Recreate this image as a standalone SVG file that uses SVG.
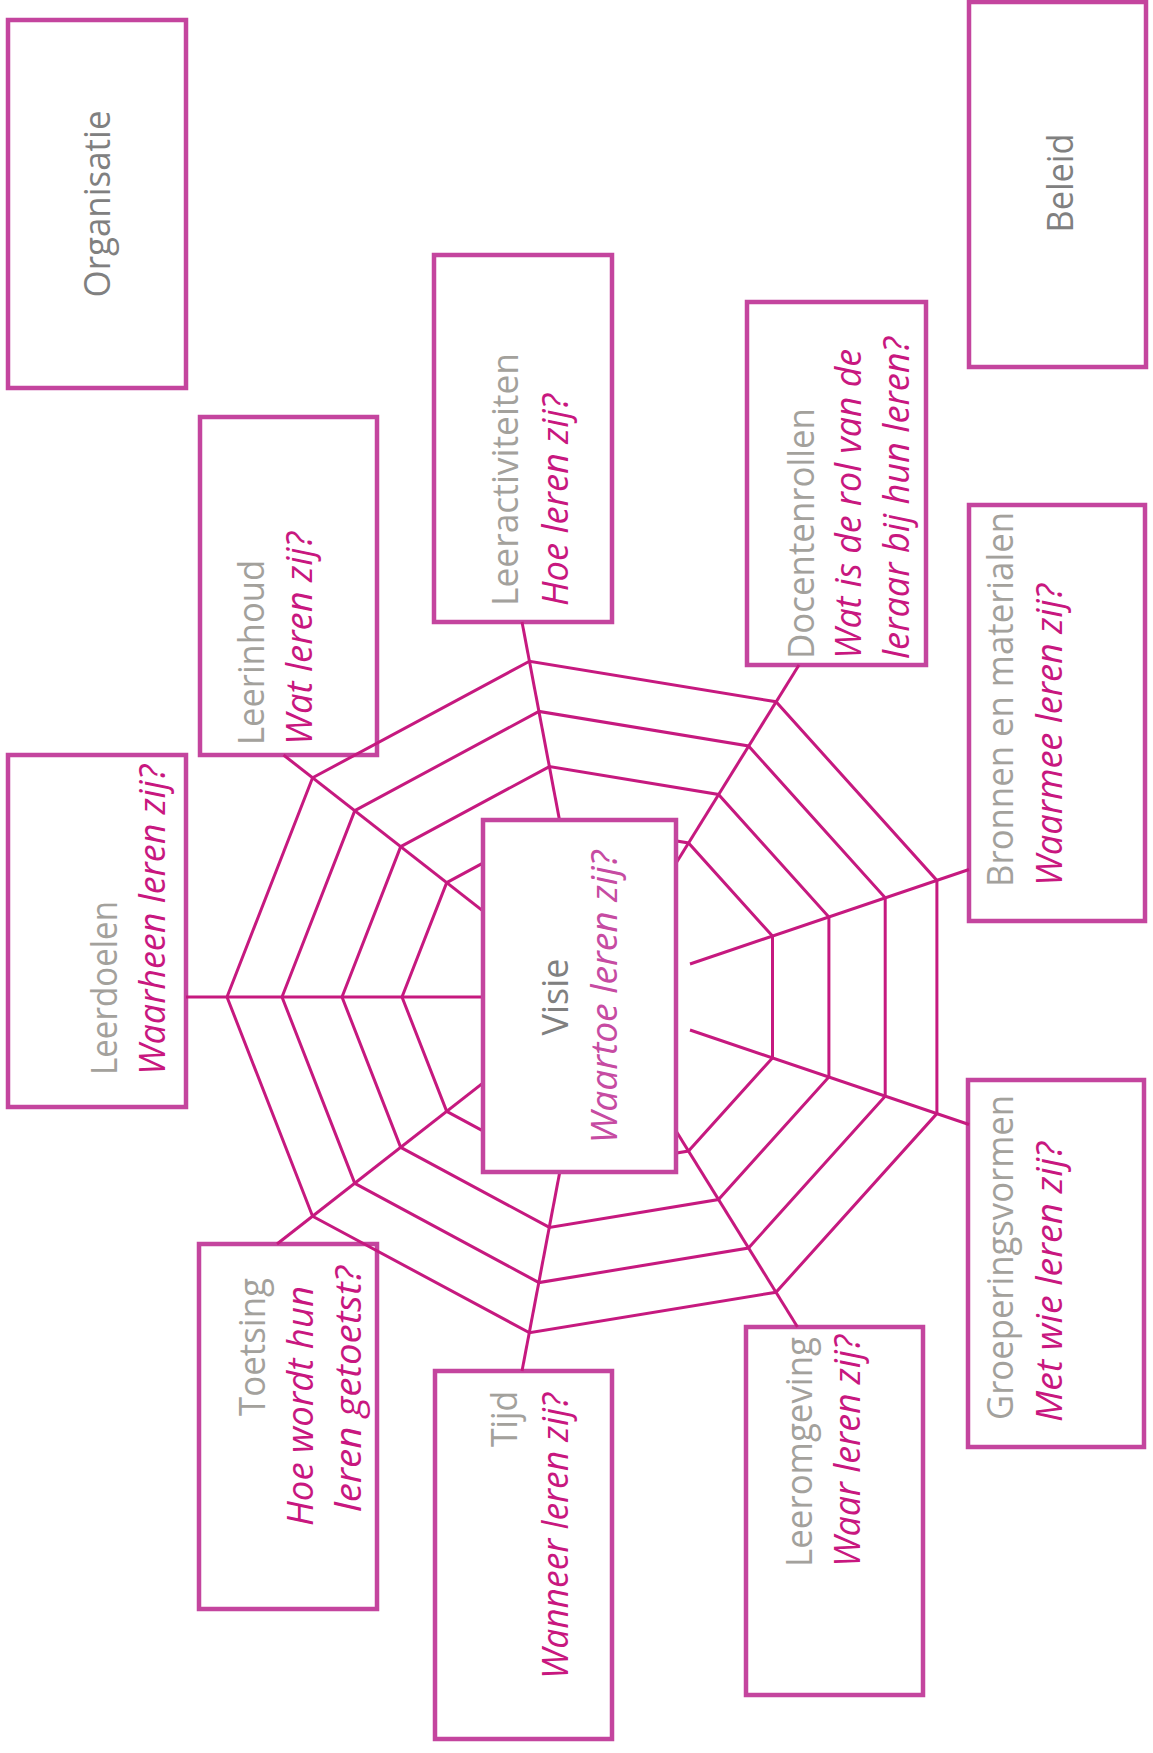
<svg xmlns="http://www.w3.org/2000/svg" width="1153" height="1753" viewBox="0 0 1153 1753">
<style>
.box{fill:#fff;stroke:#C4459E;stroke-width:4.5}
.web{fill:none;stroke:#C6197F;stroke-width:3;stroke-linejoin:miter}
.t{font-family:"Open Sans","Noto Sans","DejaVu Sans",sans-serif;font-size:36px}
.g{fill:#A3A19C}
.d{fill:#808080}
.p{fill:#C8177F;font-style:italic}
.pv{fill:#C64BA2;font-style:italic}
</style>
<rect width="1153" height="1753" fill="#fff"/>

<g id="organisatie">
<rect class="box" x="8" y="20" width="178" height="368"/>
<text class="t d" transform="translate(110,204) rotate(-90)" text-anchor="middle" textLength="187" lengthAdjust="spacingAndGlyphs">Organisatie</text>
</g>
<g id="beleid">
<rect class="box" x="969" y="2" width="177" height="365"/>
<text class="t d" transform="translate(1073,183) rotate(-90)" text-anchor="middle" textLength="99" lengthAdjust="spacingAndGlyphs">Beleid</text>
</g>
<g id="leeractiviteiten">
<rect class="box" x="434" y="255" width="178" height="367"/>
<text class="t g" transform="translate(518,606) rotate(-90)" textLength="253" lengthAdjust="spacingAndGlyphs">Leeractiviteiten</text>
<text class="t p" transform="translate(568,606) rotate(-90)" textLength="212" lengthAdjust="spacingAndGlyphs">Hoe leren zij?</text>
</g>
<g id="docentenrollen">
<rect class="box" x="747" y="302" width="179" height="363"/>
<text class="t g" transform="translate(814,659) rotate(-90)" textLength="251" lengthAdjust="spacingAndGlyphs">Docentenrollen</text>
<text class="t p" transform="translate(861,659) rotate(-90)" textLength="310" lengthAdjust="spacingAndGlyphs">Wat is de rol van de</text>
<text class="t p" transform="translate(909,659) rotate(-90)" textLength="322" lengthAdjust="spacingAndGlyphs">leraar bij hun leren?</text>
</g>
<g id="leerinhoud">
<rect class="box" x="200" y="417" width="177" height="338"/>
<text class="t g" transform="translate(264,745) rotate(-90)" textLength="185" lengthAdjust="spacingAndGlyphs">Leerinhoud</text>
<text class="t p" transform="translate(312,745) rotate(-90)" textLength="213" lengthAdjust="spacingAndGlyphs">Wat leren zij?</text>
</g>
<g id="leerdoelen">
<rect class="box" x="8" y="755" width="178" height="352"/>
<text class="t g" transform="translate(117,1075) rotate(-90)" textLength="174" lengthAdjust="spacingAndGlyphs">Leerdoelen</text>
<text class="t p" transform="translate(165,1075) rotate(-90)" textLength="310" lengthAdjust="spacingAndGlyphs">Waarheen leren zij?</text>
</g>
<g id="bronnen">
<rect class="box" x="969" y="505" width="176" height="416"/>
<text class="t g" transform="translate(1013,887) rotate(-90)" textLength="375" lengthAdjust="spacingAndGlyphs">Bronnen en materialen</text>
<text class="t p" transform="translate(1062,886) rotate(-90)" textLength="302" lengthAdjust="spacingAndGlyphs">Waarmee leren zij?</text>
</g>
<g id="groeperingsvormen">
<rect class="box" x="968" y="1080" width="176" height="367"/>
<text class="t g" transform="translate(1013,1420) rotate(-90)" textLength="325" lengthAdjust="spacingAndGlyphs">Groeperingsvormen</text>
<text class="t p" transform="translate(1062,1422) rotate(-90)" textLength="280" lengthAdjust="spacingAndGlyphs">Met wie leren zij?</text>
</g>
<g id="leeromgeving">
<rect class="box" x="746" y="1327" width="177" height="368"/>
<text class="t g" transform="translate(812,1567) rotate(-90)" textLength="230" lengthAdjust="spacingAndGlyphs">Leeromgeving</text>
<text class="t p" transform="translate(860,1567) rotate(-90)" textLength="232" lengthAdjust="spacingAndGlyphs">Waar leren zij?</text>
</g>
<g id="tijd">
<rect class="box" x="435" y="1371" width="177" height="368"/>
<text class="t g" transform="translate(517,1447) rotate(-90)" textLength="56" lengthAdjust="spacingAndGlyphs">Tijd</text>
<text class="t p" transform="translate(568,1679) rotate(-90)" textLength="286" lengthAdjust="spacingAndGlyphs">Wanneer leren zij?</text>
</g>
<g id="toetsing">
<rect class="box" x="199" y="1244" width="178" height="365"/>
<text class="t g" transform="translate(265,1416) rotate(-90)" textLength="138" lengthAdjust="spacingAndGlyphs">Toetsing</text>
<text class="t p" transform="translate(313,1526) rotate(-90)" textLength="240" lengthAdjust="spacingAndGlyphs">Hoe wordt hun</text>
<text class="t p" transform="translate(361,1512) rotate(-90)" textLength="246" lengthAdjust="spacingAndGlyphs">leren getoetst?</text>
</g>

<g id="connectors" class="web">
<polygon points="227,997 312.6,777.8 529.5,661.2 776,701.7 936.9,880.4 936.9,1113.6 776,1292.3 529.5,1332.8 312.6,1216.2"/>
<polygon points="282,997 354.8,810.6 539,711.4 748.5,745.9 885.2,897.8 885.2,1096.2 748.5,1248.1 539,1282.6 354.8,1183.4"/>
<polygon points="342,997 400.7,846.6 549.4,766.6 718.5,794.4 828.9,917 828.9,1077 718.5,1199.6 549.4,1227.4 400.7,1147.4"/>
<polygon points="402,997 446.7,882.6 559.8,821.7 688.5,842.9 772.5,936.1 772.5,1057.9 688.5,1151.1 559.8,1172.3 446.7,1111.4"/>
<line x1="593" y1="997" x2="186" y2="997"/>
<line x1="593" y1="997" x2="283.5" y2="755"/>
<line x1="593" y1="997" x2="522" y2="622"/>
<line x1="593" y1="997" x2="799" y2="665"/>
<line x1="690" y1="964" x2="969" y2="869.5"/>
<line x1="690" y1="1030" x2="969" y2="1124.5"/>
<line x1="593" y1="997" x2="797.5" y2="1327"/>
<line x1="593" y1="997" x2="522" y2="1371"/>
<line x1="593" y1="997" x2="277" y2="1244"/>
</g>

<g id="visie">
<rect class="box" x="483" y="820" width="193" height="352"/>
<text class="t d" transform="translate(568,997) rotate(-90)" text-anchor="middle" textLength="77" lengthAdjust="spacingAndGlyphs">Visie</text>
<text class="t pv" transform="translate(617,997) rotate(-90)" text-anchor="middle" textLength="293" lengthAdjust="spacingAndGlyphs">Waartoe leren zij?</text>
</g>
</svg>
